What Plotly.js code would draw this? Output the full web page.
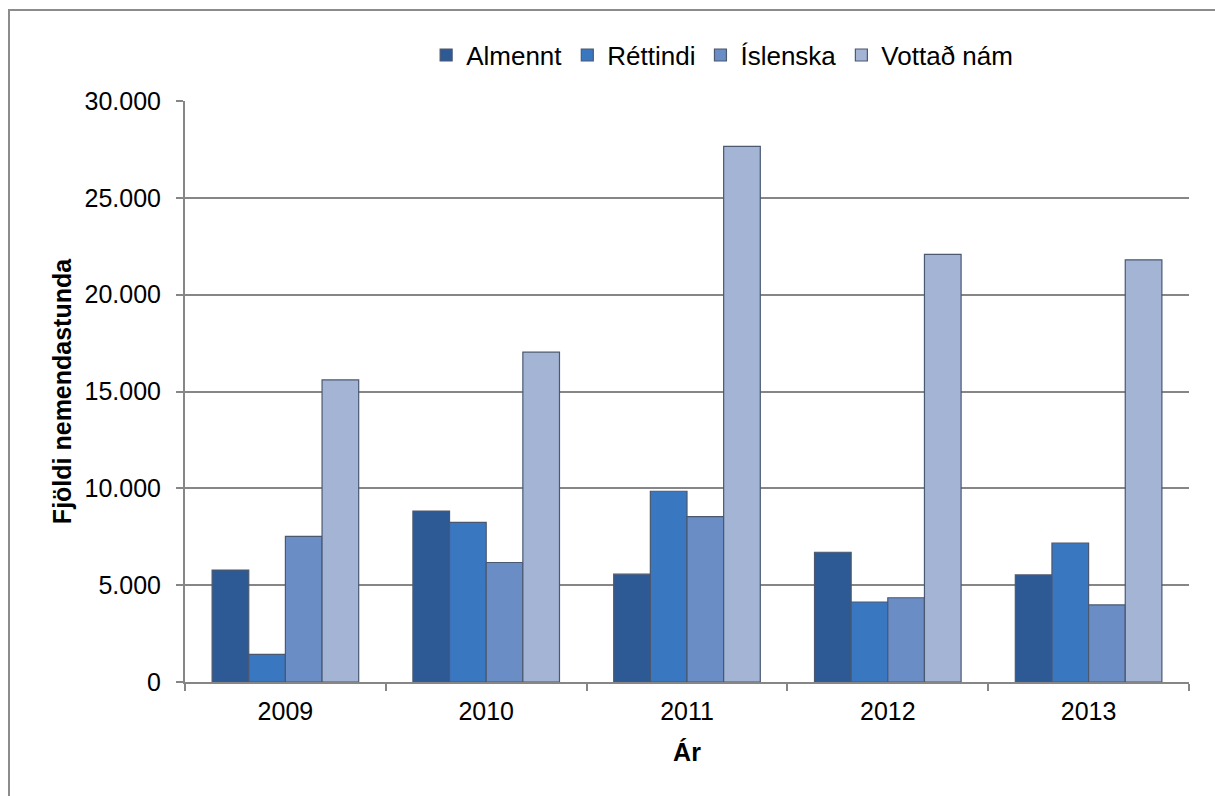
<!DOCTYPE html>
<html>
<head>
<meta charset="utf-8">
<script src="https://cdn.plot.ly/plotly-3.0.1.min.js"></script>
<style>
  html, body { margin: 0; padding: 0; background: #ffffff; overflow: hidden; }
  #frame { position: absolute; left: 8px; top: 9px; width: 1220px; height: 800px;
           border-left: 2px solid #8c8c8c; border-top: 2px solid #8c8c8c; }
  #chart { position: absolute; left: 0; top: 0; width: 1215px; height: 796px; }
</style>
</head>
<body>
<div id="frame"></div>
<div id="chart"></div>
<script>
const years = ["2009", "2010", "2011", "2012", "2013"];
const almennt = [5780, 8830, 5570, 6700, 5530];
const rettindi = [1430, 8240, 9850, 4130, 7170];
const islenska = [7520, 6170, 8540, 4350, 3980];
const vottad = [15600, 17030, 27660, 22080, 21800];
const seriesNames = ["Almennt", "Réttindi", "Íslenska", "Vottað nám"];
const yTicks = [0, 5000, 10000, 15000, 20000, 25000, 30000];

const colors = ["#2d5a94", "#3a77c1", "#6b8dc6", "#a3b4d5"];
const values = [almennt, rettindi, islenska, vottad];

const traces = values.map((v, i) => ({
  type: "bar",
  name: seriesNames[i],
  x: years,
  y: v,
  marker: { color: colors[i], line: { color: "#4a5870", width: 1.2 } },
  hoverinfo: "x+y+name"
}));

const font = "Liberation Sans, Arial, sans-serif";
const fs = 25;
const layout = {
  width: 1215, height: 796,
  paper_bgcolor: "rgba(0,0,0,0)",
  plot_bgcolor: "rgba(0,0,0,0)",
  separators: ",.",
  margin: { l: 185, r: 26, t: 101, b: 114 },
  barmode: "group",
  bargap: 0.27,
  bargroupgap: 0,
  font: { family: font, size: fs, color: "#000000" },
  showlegend: true,
  legend: {
    orientation: "h", x: 0.535, xanchor: "center", y: 1.079, yanchor: "middle",
    font: { family: font, size: 26, color: "#000000" },
    itemwidth: 30, tracegroupgap: 0, traceorder: "normal"
  },
  xaxis: {
    type: "category",
    showgrid: false,
    showline: true, linecolor: "#868686", linewidth: 2,
    ticks: "outside", tickson: "boundaries", ticklen: 7, tickcolor: "#868686", tickwidth: 2,
    ticklabelstandoff: 6,
    tickfont: { family: font, size: fs, color: "#000000" },
    title: { text: "<b>Ár</b>", font: { family: font, size: fs, color: "#000000" }, standoff: 19 }
  },
  yaxis: {
    range: [0, 30000],
    tickvals: yTicks,
    tickformat: ",d",
    showgrid: true, gridcolor: "#868686", gridwidth: 2,
    zeroline: false,
    showline: true, linecolor: "#868686", linewidth: 2,
    ticks: "outside", ticklen: 7, tickcolor: "#868686", tickwidth: 2,
    ticklabelstandoff: 10,
    tickfont: { family: font, size: fs, color: "#000000" },
    title: { text: "<b>Fjöldi nemendastunda</b>", font: { family: font, size: fs, color: "#000000" }, standoff: 6 }
  }
};

Plotly.newPlot("chart", traces, layout, { displayModeBar: false, staticPlot: true });
</script>
</body>
</html>
